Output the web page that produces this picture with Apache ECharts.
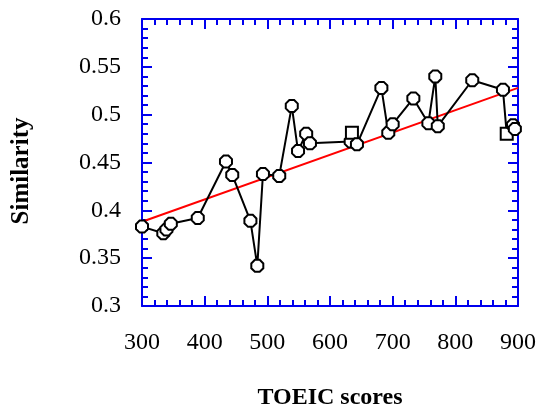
<!DOCTYPE html>
<html>
<head>
<meta charset="utf-8">
<script src="https://cdn.jsdelivr.net/npm/echarts@6/dist/echarts.min.js"></script>
<style>
  html, body { margin: 0; padding: 0; background: #fff; }
  #chart { width: 538px; height: 408px; }
</style>
</head>
<body>
<div id="chart"></div>
<script>
const scores = [300, 334, 339, 346, 389, 434, 444, 473, 484, 493, 519, 539, 549, 562, 568,
  633, 635, 643, 682, 693, 700, 733, 757, 768, 772, 827, 876, 882, 892, 895]
const similarity = [0.383, 0.376, 0.380, 0.386, 0.392, 0.451, 0.437, 0.389, 0.342, 0.438, 0.436, 0.509, 0.462, 0.480, 0.470,
  0.472, 0.481, 0.469, 0.528, 0.481, 0.490, 0.517, 0.491, 0.540, 0.488, 0.536, 0.526, 0.480, 0.489, 0.485]
const markers = ['hex', 'hex', 'hex', 'hex', 'hex', 'hex', 'hex', 'hex', 'hex', 'hex', 'hex', 'hex', 'hex', 'hex', 'hex',
  'hex', 'sq', 'hex', 'hex', 'hex', 'hex', 'hex', 'hex', 'hex', 'hex', 'hex', 'hex', 'sq', 'hex', 'hex']
const trendX = [300, 900]
const trendY = [0.388, 0.528]
const xTicks = [300, 900, 100]
const yTicks = [0.3, 0.6, 0.05]

const hexPath = 'path://M3,0 L7,0 L10,3 L10,7 L7,10 L3,10 L0,7 L0,3 Z'
const blue = '#0000ee'
const font = '"Liberation Serif", "Times New Roman", serif'

const axisBase = (showLabel) => ({
  axisLine: { lineStyle: { color: blue, width: 2 } },
  axisTick: { show: true, inside: true, length: 10, lineStyle: { color: blue, width: 2 } },
  minorTick: { show: true, splitNumber: 5, length: 6, lineStyle: { color: blue, width: 2 } },
  splitLine: { show: false },
  axisLabel: { show: showLabel },
})

const chart = echarts.init(document.getElementById('chart'))
chart.setOption({
  animation: false,
  grid: { left: 142, right: 20, top: 19, bottom: 102, containLabel: false, outerBoundsMode: 'none' },
  xAxis: [
    { type: 'value', min: xTicks[0], max: xTicks[1], interval: xTicks[2], position: 'bottom',
      ...axisBase(true),
      axisLabel: { color: '#000', fontFamily: font, fontSize: 24, margin: 25 },
      name: 'TOEIC scores', nameLocation: 'middle', nameGap: 80,
      nameTextStyle: { color: '#000', fontFamily: font, fontSize: 24, fontWeight: 'bold' } },
    { type: 'value', min: xTicks[0], max: xTicks[1], interval: xTicks[2], position: 'top',
      ...axisBase(false) },
  ],
  yAxis: [
    { type: 'value', min: yTicks[0], max: yTicks[1], interval: yTicks[2], position: 'left',
      ...axisBase(true),
      axisLabel: { color: '#000', fontFamily: font, fontSize: 24, margin: 21 } },
    { type: 'value', min: yTicks[0], max: yTicks[1], interval: yTicks[2], position: 'right',
      ...axisBase(false) },
  ],
  graphic: [
    { type: 'text', x: 22, y: 171, rotation: Math.PI / 2,
      style: { text: 'Similarity', fill: '#000', font: 'bold 25px ' + font, align: 'center', verticalAlign: 'middle' } },
  ],
  series: [
    {
      type: 'line',
      data: trendX.map((x, i) => [x, trendY[i]]),
      symbol: 'none',
      lineStyle: { color: '#ff0000', width: 2 },
      z: 1,
    },
    {
      type: 'line',
      data: scores.map((x, i) => ({
        value: [x, similarity[i]],
        symbol: markers[i] === 'sq' ? 'rect' : hexPath,
      })),
      symbolSize: 12,
      lineStyle: { color: '#000', width: 2 },
      itemStyle: { color: '#fff', borderColor: '#000', borderWidth: 2 },
      z: 2,
    },
  ],
})
</script>
</body>
</html>
